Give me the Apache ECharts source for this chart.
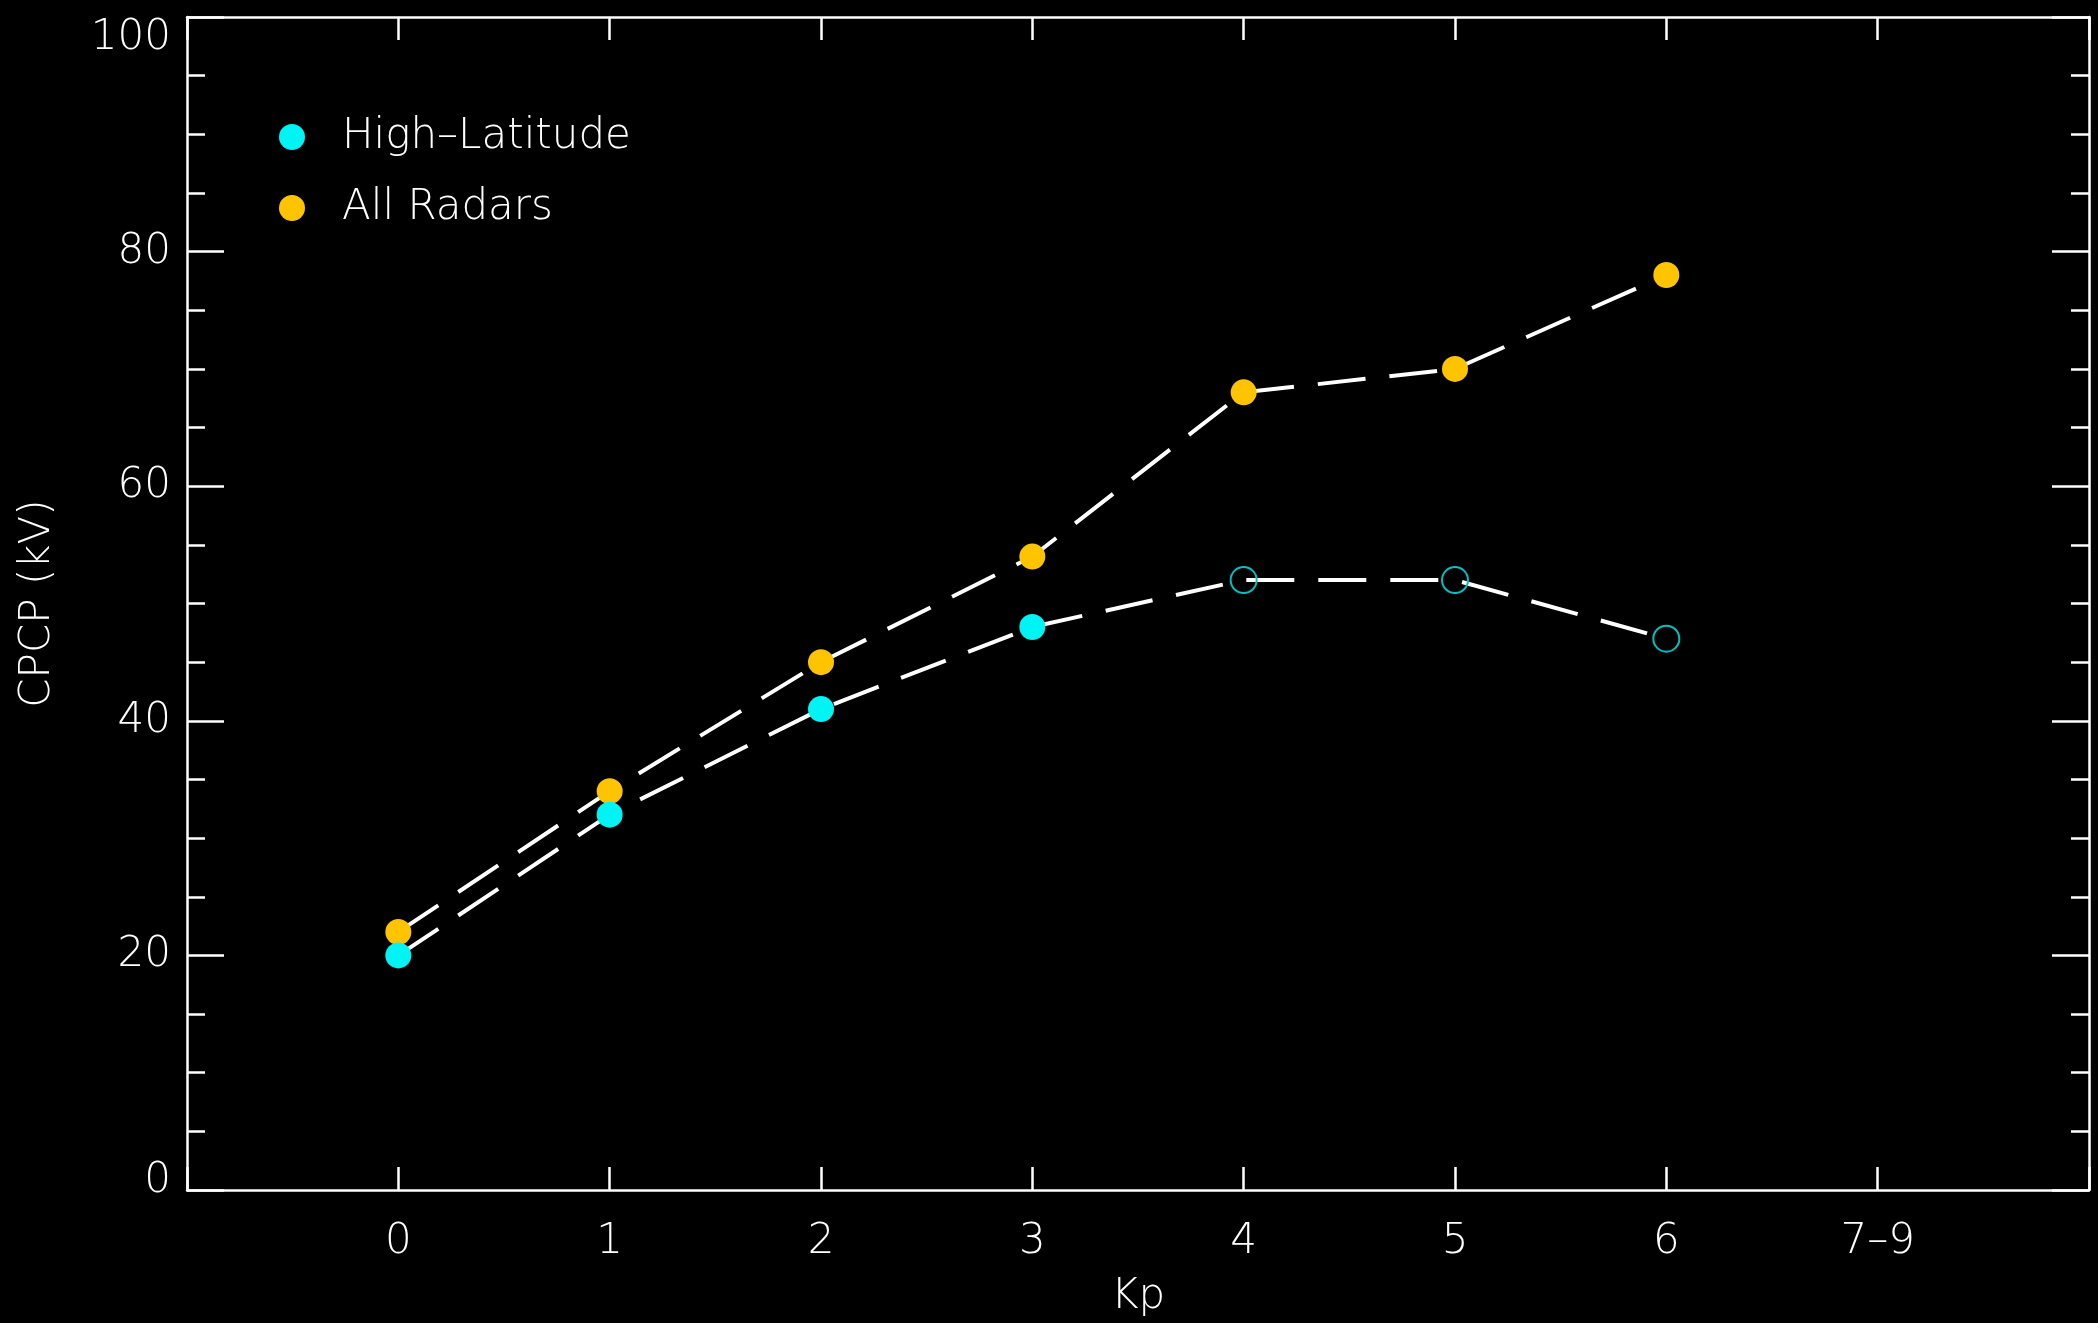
<!DOCTYPE html>
<html>
<head>
<meta charset="utf-8">
<script src="https://cdn.jsdelivr.net/npm/echarts@6/dist/echarts.min.js"></script>
<style>
  html, body { margin: 0; padding: 0; background: #000; }
  #chart { width: 2098px; height: 1323px; }
</style>
</head>
<body>
<div id="chart"></div>
<script>
// Kp bins along the x axis (bin index -> tick label)
const kpBins = [0, 1, 2, 3, 4, 5, 6, 7];
const kpLabels = ['0', '1', '2', '3', '4', '5', '6', '7\u20139'];

// Cross polar cap potential (kV) per Kp bin
const highLatitudeCPCP = [20, 32, 41, 48, 52, 52, 47];
const allRadarsCPCP = [22, 34, 45, 54, 68, 70, 78];
// Bins where high-latitude coverage is sparse (drawn as open circles)
const highLatitudeSparse = [0, 0, 0, 0, 1, 1, 1];

const yTicks = [0, 20, 40, 60, 80, 100];

const FONT = '"DejaVu Sans", sans-serif';
const WHITE = '#ffffff';
const CYAN = '#00f4f4';
const CYAN_OPEN = '#00c0c0';
const GOLD = '#ffc400';

const radarData = allRadarsCPCP.map((v, i) => [kpBins[i], v]);
const highLatData = highLatitudeCPCP.map((v, i) => {
  const item = { value: [kpBins[i], v] };
  if (highLatitudeSparse[i]) {
    item.itemStyle = { color: 'rgba(0,0,0,0)', borderColor: CYAN_OPEN, borderWidth: 2 };
  }
  return item;
});

const baseText = { color: WHITE, fontFamily: FONT, fontSize: 42, fontWeight: 200 };

function xAxisDef(pos, showLabels) {
  return {
    type: 'value', position: pos, min: -1, max: 8, interval: 1,
    axisLine: { show: true, onZero: false, lineStyle: { color: WHITE, width: 2.5 } },
    axisTick: {
      show: true, inside: true, length: 23, lineStyle: { color: WHITE, width: 2.5 }
    },
    splitLine: { show: false },
    axisLabel: showLabels ? Object.assign({}, baseText, {
      margin: 31,
      showMinLabel: true, showMaxLabel: true,
      formatter: v => (v >= 0 && v < kpLabels.length ? kpLabels[v] : '')
    }) : { show: false },
    name: showLabels ? 'Kp' : '',
    nameLocation: 'middle',
    nameGap: 86,
    nameTextStyle: baseText
  };
}

function yAxisDef(pos, showLabels) {
  const yMin = yTicks[0];
  return {
    type: 'value', position: pos,
    min: yMin, max: yTicks[yTicks.length - 1], interval: yTicks[1] - yTicks[0],
    axisLine: { show: true, onZero: false, lineStyle: { color: WHITE, width: 2.5 } },
    axisTick: {
      show: true, inside: true, length: 37, lineStyle: { color: WHITE, width: 2.5 }
    },
    minorTick: {
      show: true, splitNumber: 4, length: 18, lineStyle: { color: WHITE, width: 2.5 }
    },
    splitLine: { show: false },
    minorSplitLine: { show: false },
    axisLabel: showLabels ? Object.assign({}, baseText, {
      margin: 16,
      verticalAlignMinLabel: 'bottom',
      verticalAlignMaxLabel: 'top',
      // the lowest label sits just above its tick
      formatter: v => (v === yMin ? '{lo|' + v + '}' : String(v)),
      rich: { lo: Object.assign({}, baseText, { lineHeight: 18 }) }
    }) : { show: false },
    name: showLabels ? 'CPCP (kV)' : '',
    nameLocation: 'middle',
    nameGap: 128,
    nameTextStyle: baseText
  };
}

const lineDash = { color: WHITE, width: 4, type: [48, 24] };

const chart = echarts.init(document.getElementById('chart'), null, { renderer: 'canvas' });
chart.setOption({
  backgroundColor: '#000',
  animation: false,
  grid: { left: 187, right: 9, top: 17, bottom: 127 },
  legend: {
    orient: 'vertical',
    left: 274, top: 111,
    icon: 'circle',
    itemWidth: 26, itemHeight: 26,
    itemGap: 29,
    textStyle: Object.assign({}, baseText, { padding: [0, 0, 0, 32] }),
    data: ['High\u2013Latitude', 'All Radars']
  },
  xAxis: [xAxisDef('bottom', true), xAxisDef('top', false)],
  yAxis: [yAxisDef('left', true), yAxisDef('right', false)],
  series: [
    {
      name: 'All Radars', type: 'line',
      data: radarData,
      symbol: 'circle', symbolSize: 26,
      itemStyle: { color: GOLD },
      lineStyle: lineDash,
      z: 3
    },
    {
      name: 'High\u2013Latitude', type: 'line',
      data: highLatData,
      symbol: 'circle', symbolSize: 26,
      itemStyle: { color: CYAN },
      lineStyle: lineDash,
      z: 3
    }
  ]
});
</script>
</body>
</html>
